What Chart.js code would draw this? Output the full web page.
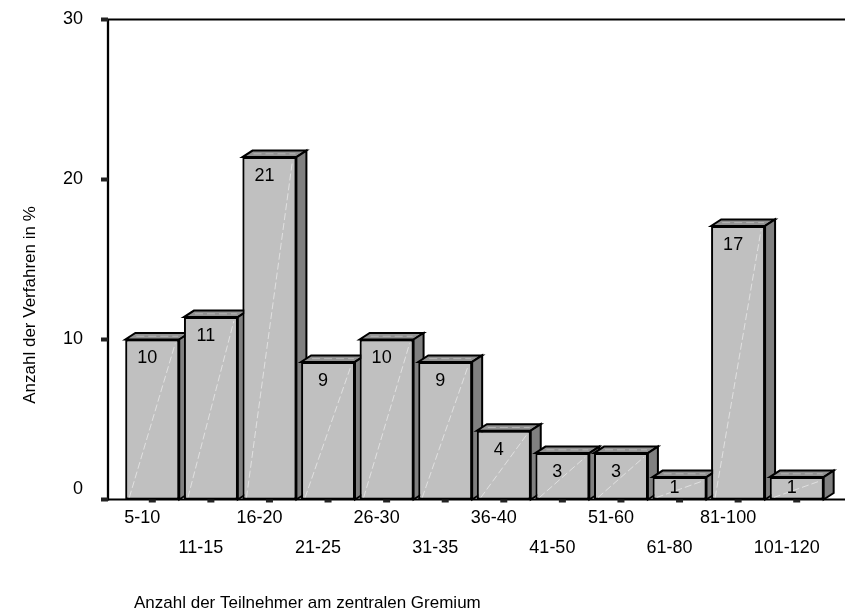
<!DOCTYPE html>
<html><head><meta charset="utf-8">
<script src="https://cdn.jsdelivr.net/npm/chart.js@4/dist/chart.umd.min.js"></script>
<style>html,body{margin:0;padding:0;background:#fff;overflow:hidden}</style>
</head><body>
<canvas id="c" width="845" height="616" style="width:845px;height:616px;display:block"></canvas>
<script>
const categories = ['5-10','11-15','16-20','21-25','26-30','31-35','36-40','41-50','51-60','61-80','81-100','101-120'];
const shares = [10.0, 11.4, 21.4, 8.6, 10.0, 8.6, 4.3, 2.9, 2.9, 1.4, 17.1, 1.4];
const yTicks = [0, 10, 20, 30];
const xTitle = 'Anzahl der Teilnehmer am zentralen Gremium';
const yTitle = 'Anzahl der Verfahren in %';

const FONT = '"Liberation Sans", Arial, sans-serif';
Chart.defaults.font.family = FONT;
Chart.defaults.color = '#000';

const DX = 10, DY = 6.5;
const AXIS_X = 108;

const bar3d = {
  id: 'bar3d',
  beforeDatasetsDraw(chart) {
    const ctx = chart.ctx, ys = chart.scales.y;
    ctx.save();
    ctx.strokeStyle = '#000';
    ctx.lineWidth = 2.3;
    ctx.beginPath();
    ctx.moveTo(AXIS_X, ys.getPixelForValue(30));
    ctx.lineTo(AXIS_X, ys.getPixelForValue(0) + 1);
    ctx.stroke();
    ctx.lineWidth = 2;
    ctx.beginPath();
    ctx.moveTo(AXIS_X, ys.getPixelForValue(30));
    ctx.lineTo(845, ys.getPixelForValue(30));
    ctx.moveTo(AXIS_X, ys.getPixelForValue(0));
    ctx.lineTo(845, ys.getPixelForValue(0));
    ctx.stroke();
    ctx.fillStyle = '#222';
    yTicks.forEach(v => {
      const py = ys.getPixelForValue(v);
      ctx.fillRect(AXIS_X - 7, py - 2, 7, 4);
    });
    ctx.restore();
  },
  afterDatasetsDraw(chart) {
    const ctx = chart.ctx, meta = chart.getDatasetMeta(0), xs = chart.scales.x;
    const base0 = chart.scales.y.getPixelForValue(0);
    ctx.save();
    meta.data.forEach((el) => {
      el.draw(ctx);
      const {x, y, base, width} = el.getProps(['x','y','base','width'], true);
      const l = x - width / 2, r = x + width / 2;
      ctx.lineWidth = 2;
      ctx.lineJoin = 'miter';
      ctx.strokeStyle = '#000';
      ctx.save();
      ctx.strokeStyle = 'rgba(255,255,255,0.5)';
      ctx.lineWidth = 1;
      ctx.setLineDash([7, 3]);
      ctx.beginPath();
      ctx.moveTo(l + 4, base - 2);
      ctx.lineTo(r - 4, y + 4);
      ctx.stroke();
      ctx.restore();
      ctx.fillStyle = '#919191';
      ctx.beginPath();
      ctx.moveTo(l, y); ctx.lineTo(r, y); ctx.lineTo(r + DX, y - DY); ctx.lineTo(l + DX, y - DY); ctx.closePath();
      ctx.fill(); ctx.stroke();
      ctx.save();
      ctx.strokeStyle = 'rgba(210,210,210,0.6)';
      ctx.lineWidth = 1;
      ctx.setLineDash([8, 4]);
      ctx.beginPath();
      ctx.moveTo(l + DX / 2 + 6, y - DY / 2);
      ctx.lineTo(r + DX / 2 - 6, y - DY / 2);
      ctx.stroke();
      ctx.restore();
      ctx.fillStyle = '#808080';
      ctx.beginPath();
      ctx.moveTo(r, y); ctx.lineTo(r + DX, y - DY); ctx.lineTo(r + DX, base - DY); ctx.lineTo(r, base); ctx.closePath();
      ctx.fill(); ctx.stroke();
    });
    ctx.fillStyle = '#000';
    ctx.font = '18px ' + FONT;
    ctx.textAlign = 'center';
    ctx.textBaseline = 'middle';
    meta.data.forEach((el, i) => {
      const {x, y, base} = el.getProps(['x','y','base'], true);
      const ly = Math.min(y + 19, (y + base) / 2);
      ctx.fillText(String(Math.round(shares[i])), x - 5, ly);
    });
    ctx.fillStyle = '#222';
    categories.forEach((c, i) => {
      const px = xs.getPixelForValue(i);
      ctx.fillRect(px - 3.5, base0, 7, 3);
    });
    ctx.restore();
  },
  afterDraw(chart) {
    const ctx = chart.ctx;
    ctx.save();
    ctx.fillStyle = '#000';
    ctx.font = '17px ' + FONT;
    ctx.textBaseline = 'middle';
    ctx.textAlign = 'left';
    ctx.fillText(xTitle, 134, 603);
    ctx.translate(30, 305);
    ctx.rotate(-Math.PI / 2);
    ctx.textAlign = 'center';
    ctx.textBaseline = 'middle';
    ctx.fillText(yTitle, 0, 0);
    ctx.restore();
  }
};

new Chart(document.getElementById('c'), {
  type: 'bar',
  data: {
    labels: categories,
    datasets: [{
      data: shares,
      backgroundColor: '#c0c0c0',
      borderColor: '#000',
      borderWidth: 2,
      borderSkipped: false,
      barPercentage: 0.92,
      categoryPercentage: 1.0
    }]
  },
  options: {
    responsive: false,
    animation: false,
    devicePixelRatio: 1,
    layout: { padding: { top: 19.5, right: 19, left: 0, bottom: 0 } },
    plugins: { legend: { display: false }, tooltip: { enabled: false } },
    scales: {
      x: {
        type: 'category',
        offset: true,
        grid: { display: false, drawTicks: false },
        border: { display: false },
        ticks: {
          autoSkip: false, maxRotation: 0, minRotation: 0, padding: 3.5,
          labelOffset: -10,
          font: { size: 18, lineHeight: 30 / 18 }, color: '#000',
          callback: (v, i) => (i % 2 ? ['', categories[i]] : categories[i])
        },
        afterFit: s => { s.height = 116.5; s.paddingLeft = 0; s.paddingRight = 0; }
      },
      y: {
        type: 'linear', min: 0, max: 30,
        grid: { display: false, drawTicks: false },
        border: { display: false },
        afterBuildTicks: s => { s.ticks = yTicks.map(v => ({ value: v })); },
        ticks: {
          font: { size: 18 }, color: '#000', padding: 40,
          callback: v => (v === 0 ? [String(v), ''] : String(v))
        },
        afterFit: s => { s.width = 123; s.paddingTop = 0; s.paddingBottom = 0; }
      }
    }
  },
  plugins: [bar3d]
});
</script>
</body></html>
